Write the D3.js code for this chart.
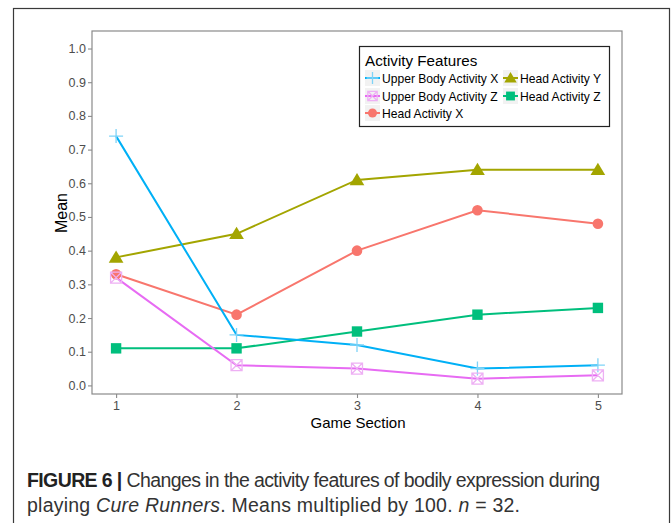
<!DOCTYPE html>
<html><head><meta charset="utf-8">
<script src="https://cdn.jsdelivr.net/npm/d3@7"></script>
<style>body{margin:0;background:#fff;}svg{display:block;}</style>
</head><body>
<svg id="c" width="672" height="523"></svg>
<script>
const sections = [1, 2, 3, 4, 5];
const seriesNames = ["Upper Body Activity X", "Upper Body Activity Z", "Head Activity X", "Head Activity Y", "Head Activity Z"];
const upperBodyX = [0.74, 0.15, 0.12, 0.05, 0.06];
const upperBodyZ = [0.32, 0.06, 0.05, 0.02, 0.03];
const headX = [0.33, 0.21, 0.40, 0.52, 0.48];
const headY = [0.38, 0.45, 0.61, 0.64, 0.64];
const headZ = [0.11, 0.11, 0.16, 0.21, 0.23];
const yTicks = [0.0, 0.1, 0.2, 0.3, 0.4, 0.5, 0.6, 0.7, 0.8, 0.9, 1.0];
const colors = ["#00B0F6", "#E76BF3", "#F8766D", "#A3A500", "#00BF7D"];
const shapes = ["plus", "boxx", "circle", "triangle", "square"];
const values = [upperBodyX, upperBodyZ, headX, headY, headZ];

const svg = d3.select("#c");
const font = "Liberation Sans, Arial, sans-serif";

// outer frame
svg.append("rect").attr("x", 13.5).attr("y", 8.5).attr("width", 656).attr("height", 530)
  .attr("fill", "none").attr("stroke", "#3a3a3a").attr("stroke-width", 1.2);

const L = 92, R = 622, T = 31, B = 394;
const x = d3.scaleLinear().domain([0.8, 5.2]).range([L, R]);
const y = d3.scaleLinear().domain([-0.0255, 1.052]).range([B, T]);

// panel border
svg.append("rect").attr("x", L).attr("y", T).attr("width", R - L).attr("height", B - T)
  .attr("fill", "#fff").attr("stroke", "#8a8a8a").attr("stroke-width", 1.2);

// axes
const yAxis = d3.axisLeft(y).tickValues(yTicks).tickFormat(d3.format(".1f")).tickSize(4).tickPadding(2);
const xAxis = d3.axisBottom(x).tickValues(sections).tickFormat(d3.format("d")).tickSize(4).tickPadding(3);
const gy = svg.append("g").attr("transform", `translate(${L},0)`).call(yAxis);
const gx = svg.append("g").attr("transform", `translate(0,${B})`).call(xAxis);
[gx, gy].forEach(g => {
  g.attr("font-family", font).attr("font-size", 12.5);
  g.select(".domain").remove();
  g.selectAll(".tick line").attr("stroke", "#8a8a8a").attr("stroke-width", 1.1);
  g.selectAll(".tick text").attr("fill", "#4d4d4d");
});

// axis titles
svg.append("text").attr("x", (L + R) / 2 + 1).attr("y", 428).attr("text-anchor", "middle")
  .attr("font-family", font).attr("font-size", 15).attr("fill", "#000").text("Game Section");
svg.append("text").attr("transform", "translate(67,213) rotate(-90)").attr("text-anchor", "middle")
  .attr("font-family", font).attr("font-size", 16).attr("fill", "#000").text("Mean");

function drawShape(g, shape, color, cx, cy, scale) {
  const s = scale || 1;
  if (shape === "plus") {
    g.append("path").attr("d", `M${cx - 7 * s},${cy}H${cx + 7 * s}M${cx},${cy - 7 * s}V${cy + 7 * s}`)
      .attr("stroke", "#7fd3f7").attr("stroke-width", 1.3).attr("fill", "none");
  } else if (shape === "boxx") {
    const h = 5.5 * s;
    g.append("path").attr("d", `M${cx - h},${cy - h}H${cx + h}V${cy + h}H${cx - h}ZM${cx - h},${cy - h}L${cx + h},${cy + h}M${cx + h},${cy - h}L${cx - h},${cy + h}`)
      .attr("stroke", "#eeb0f4").attr("stroke-width", 1.3).attr("fill", "none");
  } else if (shape === "circle") {
    g.append("circle").attr("cx", cx).attr("cy", cy).attr("r", 5.3 * s).attr("fill", color);
  } else if (shape === "triangle") {
    const h = 7 * s;
    g.append("path").attr("d", `M${cx},${cy - h}L${cx + h * 1.05},${cy + h * 0.75}L${cx - h * 1.05},${cy + h * 0.75}Z`).attr("fill", color);
  } else if (shape === "square") {
    const h = 5.2 * s;
    g.append("rect").attr("x", cx - h).attr("y", cy - h).attr("width", 2 * h).attr("height", 2 * h).attr("fill", color);
  }
}

const line = d3.line().x((d, i) => x(sections[i])).y(d => y(d));
const order = [3, 2, 4, 0, 1];
order.forEach(k => {
  svg.append("path").attr("d", line(values[k])).attr("fill", "none")
    .attr("stroke", colors[k]).attr("stroke-width", 2);
});
order.forEach(k => {
  const g = svg.append("g");
  values[k].forEach((v, i) => drawShape(g, shapes[k], colors[k], x(sections[i]), y(v)));
});

// legend
const lg = svg.append("g");
lg.append("rect").attr("x", 359.5).attr("y", 46.5).attr("width", 250).attr("height", 80)
  .attr("fill", "#fff").attr("stroke", "#222").attr("stroke-width", 1.2);
lg.append("text").attr("x", 365).attr("y", 65.5).attr("font-family", font).attr("font-size", 15.2)
  .attr("fill", "#000").text("Activity Features");
const pos = [[365, 78], [365, 96], [365, 113], [503, 78], [503, 96]];
seriesNames.forEach((name, k) => {
  const [kx, ky] = pos[k];
  lg.append("rect").attr("x", kx).attr("y", ky - 8).attr("width", 15).attr("height", 16).attr("fill", "#f2f2f2");
  lg.append("line").attr("x1", kx).attr("x2", kx + 15).attr("y1", ky).attr("y2", ky)
    .attr("stroke", colors[k]).attr("stroke-width", 2);
  drawShape(lg, shapes[k], colors[k], kx + 7.5, ky, 0.85);
  lg.append("text").attr("x", kx + 17).attr("y", ky + 4.5).attr("font-family", font).attr("font-size", 12.1)
    .attr("fill", "#000").text(name);
});

// caption
const capFont = "Liberation Sans Narrow, Liberation Sans, sans-serif";
const c1 = svg.append("text").attr("x", 27).attr("y", 487).attr("font-family", capFont).attr("font-size", 19.5)
  .attr("fill", "#333").attr("textLength", 573);
c1.append("tspan").attr("font-weight", "bold").attr("fill", "#222").text("FIGURE 6 | ");
c1.append("tspan").text("Changes in the activity features of bodily expression during");
const c2 = svg.append("text").attr("x", 27).attr("y", 512).attr("font-family", capFont).attr("font-size", 19.5)
  .attr("fill", "#333").attr("textLength", 493);
c2.append("tspan").text("playing ");
c2.append("tspan").attr("font-style", "italic").text("Cure Runners");
c2.append("tspan").text(". Means multiplied by 100. ");
c2.append("tspan").attr("font-style", "italic").text("n");
c2.append("tspan").text(" = 32.");
</script>
</body></html>
